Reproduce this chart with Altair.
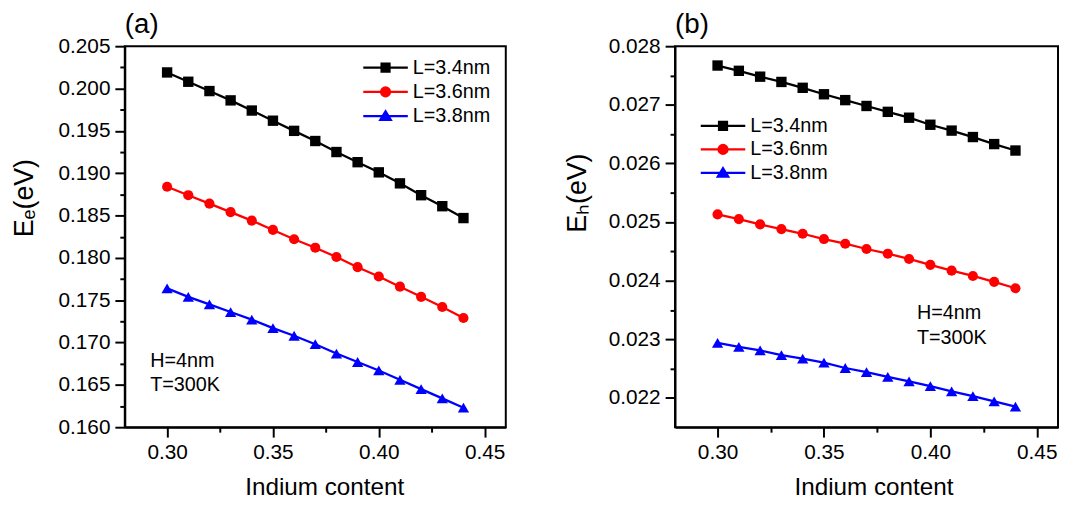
import altair as alt
import pandas as pd

FONT = "Liberation Sans"

indium = [0.30, 0.31, 0.32, 0.33, 0.34, 0.35, 0.36, 0.37, 0.38, 0.39, 0.40, 0.41, 0.42, 0.43, 0.44]
series_names = ["L=3.4nm", "L=3.6nm", "L=3.8nm"]
series_colors = ["#000000", "#ff0000", "#0000ff"]
series_shapes = ["square", "circle", "triangle-up"]
series_sizes = [110, 105, 130]
legend_paths = [
    "M-4.5,0H4.5M-0.8,-0.8H0.8V0.8H-0.8Z",
    "M-4.5,0H4.5M0.9,0A0.9,0.9 0 1,1 -0.9,0A0.9,0.9 0 1,1 0.9,0Z",
    "M-4.5,0H4.5M0,-0.95L1.05,0.75H-1.05Z",
]

# Panel (a): electron energy
ee_34 = [0.2019, 0.2008, 0.1997, 0.1986, 0.1974, 0.1962, 0.1950, 0.1938, 0.1925, 0.1913, 0.1901, 0.1888, 0.1874, 0.1861, 0.1847]
ee_36 = [0.1884, 0.1874, 0.1864, 0.1854, 0.1844, 0.1833, 0.1822, 0.1812, 0.1801, 0.1789, 0.1778, 0.1766, 0.1754, 0.1742, 0.1729]
ee_38 = [0.1764, 0.1754, 0.1745, 0.1736, 0.1727, 0.1717, 0.1708, 0.1698, 0.1687, 0.1677, 0.1667, 0.1656, 0.1645, 0.1634, 0.1623]

# Panel (b): hole energy
eh_34 = [0.02767, 0.02758, 0.02748, 0.02739, 0.02729, 0.02718, 0.02708, 0.02698, 0.02688, 0.02678, 0.02666, 0.02656, 0.02645, 0.02633, 0.02622]
eh_36 = [0.02513, 0.02505, 0.02496, 0.02488, 0.02480, 0.02471, 0.02463, 0.02454, 0.02446, 0.02437, 0.02427, 0.02417, 0.02408, 0.02398, 0.02387]
eh_38 = [0.02294, 0.02287, 0.02281, 0.02273, 0.02267, 0.02260, 0.02251, 0.02244, 0.02236, 0.02228, 0.02220, 0.02211, 0.02203, 0.02194, 0.02185]

x_domain = [0.28, 0.46]
x_major = [0.30, 0.35, 0.40, 0.45]
x_minor = [0.325, 0.375, 0.425]

ya_domain = [0.160, 0.205]
ya_major = [0.160, 0.165, 0.170, 0.175, 0.180, 0.185, 0.190, 0.195, 0.200, 0.205]
ya_minor = [0.1625, 0.1675, 0.1725, 0.1775, 0.1825, 0.1875, 0.1925, 0.1975, 0.2025]

yb_domain = [0.0215, 0.028]
yb_major = [0.022, 0.023, 0.024, 0.025, 0.026, 0.027, 0.028]
yb_minor = [0.0225, 0.0235, 0.0245, 0.0255, 0.0265, 0.0275]

note_lines = ["H=4nm", "T=300K"]


def panel(values_list, ydomain, ymajor, yminor, ytitle, label, width,
          legend_x, legend_y, row_pad, note_x, note_y, ytitle_x, ytitle_y, xtitle_x):
    rows = []
    for name, vals in zip(series_names, values_list):
        for xv, yv in zip(indium, vals):
            rows.append({"x": xv, "y": yv, "series": name})
    df = pd.DataFrame(rows)

    xs = alt.Scale(domain=x_domain, nice=False, zero=False)
    ys = alt.Scale(domain=ydomain, nice=False, zero=False)

    major_x = alt.Axis(orient="bottom", values=x_major, format=".2f", title="Indium content",
                       tickSize=10, labelPadding=5, titleFontSize=24.5, titleX=xtitle_x, titleY=68,
                       titleBaseline="alphabetic", titleAlign="center", labelFlush=False)
    minor_x = alt.Axis(orient="bottom", values=x_minor, labels=False, domain=False, tickSize=5, title=None)
    major_y = alt.Axis(orient="left", values=ymajor, format=".3f", title=ytitle, tickSize=10,
                       labelPadding=5, titleFontSize=27, titleX=ytitle_x, titleY=ytitle_y,
                       titleAngle=270, titleBaseline="alphabetic", titleAlign="center", labelFlush=False)
    minor_y = alt.Axis(orient="left", values=yminor, labels=False, domain=False, tickSize=5, title=None)

    layers = []
    for i, (name, color, shape, size) in enumerate(zip(series_names, series_colors, series_shapes, series_sizes)):
        sub = alt.Chart(df).transform_filter(alt.datum.series == name)
        line = sub.mark_line(color=color, strokeWidth=2.3).encode(
            x=alt.X("x:Q", scale=xs, axis=major_x if i == 0 else None),
            y=alt.Y("y:Q", scale=ys, axis=major_y if i == 0 else None),
        )
        pts = sub.mark_point(shape=shape, filled=True, size=size, color=color, opacity=1).encode(
            x=alt.X("x:Q", scale=xs, axis=minor_x if i == 0 else None),
            y=alt.Y("y:Q", scale=ys, axis=minor_y if i == 0 else None),
        )
        layers += [line, pts]

    leg = alt.Legend(title=None, orient="none", legendX=legend_x, legendY=legend_y,
                     labelFont=FONT, labelFontSize=20, labelColor="black", labelOffset=17.5,
                     symbolStrokeWidth=2.3, symbolSize=100, symbolOpacity=1, rowPadding=row_pad,
                     padding=0, labelLimit=0)
    leg_df = pd.DataFrame({"series": series_names})
    legend_layer = alt.Chart(leg_df).transform_filter("false").mark_point(
        filled=True, opacity=1, strokeWidth=2.3, size=100).encode(
        shape=alt.Shape("series:N", scale=alt.Scale(domain=series_names, range=legend_paths), legend=leg),
        fill=alt.Fill("series:N", scale=alt.Scale(domain=series_names, range=series_colors), legend=leg),
        stroke=alt.Stroke("series:N", scale=alt.Scale(domain=series_names, range=series_colors), legend=leg),
    )

    note = alt.Chart(pd.DataFrame({"t": ["\n".join(note_lines)]})).mark_text(
        align="left", baseline="alphabetic", fontSize=20, font=FONT, lineBreak="\n",
        lineHeight=25, color="black").encode(
        x=alt.XDatum(note_x, axis=None),
        y=alt.YDatum(note_y, axis=None),
        text="t:N",
    )

    return alt.layer(*layers, legend_layer, note).resolve_axis(
        x="independent", y="independent").properties(
        width=width, height=385,
        title=alt.Title(label, anchor="start", frame="group", fontSize=28, font=FONT,
                        fontWeight="normal", color="black", offset=-4),
    )


pa = panel([ee_34, ee_36, ee_38], ya_domain, ya_major, ya_minor, "Eₑ(eV)", "(a)", 385,
           253.5, 11.7, 4.5, 0.292, 0.16714, -93, 153, 201.5)
pb = panel([eh_34, eh_36, eh_38], yb_domain, yb_major, yb_minor, "Eₕ(eV)", "(b)", 387,
           38.5, 70.5, 3.8, 0.3937, 0.02334, -90, 148, 200.5)

chart = alt.hconcat(pa, pb, spacing=57).resolve_scale(
    x="independent", y="independent", fill="independent", stroke="independent", shape="independent"
).properties(
    padding={"left": 2, "top": 0, "right": 0, "bottom": 0}
).configure_view(
    stroke="black", strokeWidth=2
).configure_axis(
    domainColor="black", domainWidth=2, tickColor="black", tickWidth=2,
    labelColor="black", titleColor="black", labelFont=FONT, titleFont=FONT,
    labelFontSize=21, grid=False, titleFontWeight="normal",
)

chart.save("out.html", embed_options={"renderer": "svg", "actions": False})
